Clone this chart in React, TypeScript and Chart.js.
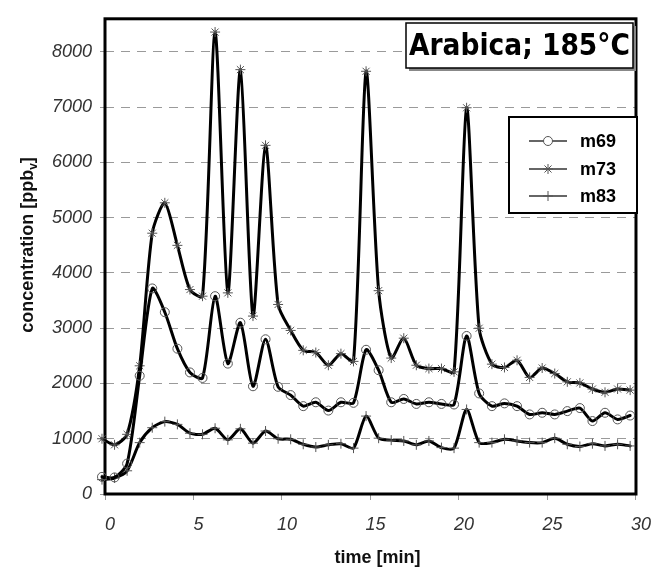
import React, { useEffect, useRef } from 'react';
import { Chart, registerables } from 'chart.js';

Chart.register(...registerables);

// time axis [min]
const times = [
  -0.17, 0.54, 1.25, 1.96, 2.67, 3.38, 4.09, 4.8, 5.51, 6.22,
  6.94, 7.65, 8.36, 9.07, 9.78, 10.49, 11.2, 11.91, 12.62, 13.33,
  14.04, 14.75, 15.46, 16.17, 16.88, 17.59, 18.3, 19.01, 19.72, 20.43,
  21.14, 21.86, 22.57, 23.28, 23.99, 24.7, 25.41, 26.12, 26.83, 27.54,
  28.25, 28.96, 29.67,
];

const m69 = [
  310, 300, 550, 2140, 3720, 3290, 2630, 2200, 2100, 3580,
  2360, 3100, 1950, 2800, 1940, 1790, 1590, 1660, 1510, 1660,
  1650, 2610, 2240, 1660, 1720, 1630, 1660, 1630, 1620, 2860,
  1820, 1590, 1640, 1590, 1440, 1470, 1440, 1500, 1555, 1320,
  1470, 1350, 1420,
];

const m73 = [
  1000, 890, 1080, 2320, 4720, 5270, 4500, 3700, 3580, 8360,
  3640, 7680, 3220, 6310, 3430, 2960, 2600, 2560, 2330, 2540,
  2400, 7650, 3680, 2460, 2820, 2330, 2270, 2270, 2210, 6990,
  3000, 2350, 2290, 2420, 2110, 2280, 2180, 2030, 2010, 1900,
  1840, 1900, 1880,
];

const m83 = [
  260, 290, 420, 930, 1200, 1310, 1260, 1100, 1080, 1190,
  980, 1180, 920, 1140, 1000, 990, 900, 850, 890, 910,
  830, 1410, 1010, 975, 960, 890, 960, 840, 830, 1530,
  930, 930, 990, 960, 930, 930, 1010, 900, 860, 910,
  870, 900, 870,
];

const seriesNames = ['m69', 'm73', 'm83'];
const seriesValues = [m69, m73, m83];
const seriesMarkers = ['circle', 'star', 'cross'];

const xTicks = [0, 5, 10, 15, 20, 25, 30];
const yTicks = [0, 1000, 2000, 3000, 4000, 5000, 6000, 7000, 8000];

const titleText = 'Arabica; 185°C';
const xTitle = 'time [min]';
const yTitleMain = 'concentration [ppb';
const yTitleSub = 'v';
const yTitleEnd = ']';

function drawMarker(ctx: CanvasRenderingContext2D, style: string, x: number, y: number, r: number) {
  ctx.save();
  ctx.strokeStyle = '#555';
  ctx.lineWidth = 1;
  ctx.beginPath();
  if (style === 'circle') {
    ctx.fillStyle = '#fff';
    ctx.arc(x, y, r, 0, Math.PI * 2);
    ctx.fill();
  } else if (style === 'star') {
    for (let k = 0; k < 4; k++) {
      const a = (k * Math.PI) / 4;
      ctx.moveTo(x - Math.cos(a) * r, y - Math.sin(a) * r);
      ctx.lineTo(x + Math.cos(a) * r, y + Math.sin(a) * r);
    }
  } else {
    ctx.moveTo(x - r, y);
    ctx.lineTo(x + r, y);
    ctx.moveTo(x, y - r);
    ctx.lineTo(x, y + r);
  }
  ctx.stroke();
  ctx.restore();
}

const decorPlugin = {
  id: 'decor',
  beforeDatasetsDraw(chart: any) {
    const { ctx, chartArea: a } = chart;
    ctx.save();
    ctx.strokeStyle = '#000';
    ctx.lineWidth = 3;
    ctx.strokeRect(a.left, a.top, a.right - a.left, a.bottom - a.top);
    ctx.restore();
  },
  afterDraw(chart: any) {
    const { ctx, chartArea: a } = chart;
    ctx.save();

    // title box with shadow
    const bx = 406, by = 23, bw = 227, bh = 45;
    ctx.fillStyle = '#888';
    ctx.fillRect(bx + 3, by + 3, bw, bh);
    ctx.fillStyle = '#fff';
    ctx.fillRect(bx, by, bw, bh);
    ctx.strokeStyle = '#000';
    ctx.lineWidth = 1.5;
    ctx.strokeRect(bx, by, bw, bh);
    ctx.fillStyle = '#000';
    ctx.font = 'bold 30px "DejaVu Sans Condensed", "DejaVu Sans", sans-serif';
    ctx.textAlign = 'left';
    ctx.textBaseline = 'alphabetic';
    ctx.fillText(titleText, bx + 3, by + 32, bw - 6);

    // legend
    const lx = 509, ly = 117, lw = 128, lh = 96;
    ctx.fillStyle = '#fff';
    ctx.fillRect(lx, ly, lw, lh);
    ctx.strokeStyle = '#000';
    ctx.lineWidth = 2;
    ctx.strokeRect(lx, ly, lw, lh);
    const rows = [141, 169, 196];
    seriesNames.forEach((name, i) => {
      const yy = rows[i];
      ctx.strokeStyle = '#333';
      ctx.lineWidth = 1.5;
      ctx.beginPath();
      ctx.moveTo(529, yy);
      ctx.lineTo(567, yy);
      ctx.stroke();
      drawMarker(ctx, seriesMarkers[i], 548, yy, i === 0 ? 4.5 : 5);
      ctx.fillStyle = '#000';
      ctx.font = 'bold 18px "Liberation Sans", Arial, sans-serif';
      ctx.textBaseline = 'middle';
      ctx.textAlign = 'left';
      ctx.fillText(name, 580, yy + 1);
    });

    // x axis title
    ctx.fillStyle = '#111';
    ctx.font = 'bold 18px "Liberation Sans", Arial, sans-serif';
    ctx.textAlign = 'center';
    ctx.textBaseline = 'alphabetic';
    ctx.fillText(xTitle, (a.left + a.right) / 2 + 7, 563);

    // y axis title with subscript
    ctx.save();
    ctx.translate(33, 245);
    ctx.rotate(-Math.PI / 2);
    const mainFont = 'bold 18px "Liberation Sans", Arial, sans-serif';
    const subFont = 'bold 12px "Liberation Sans", Arial, sans-serif';
    ctx.font = mainFont;
    const w1 = ctx.measureText(yTitleMain).width;
    const w3 = ctx.measureText(yTitleEnd).width;
    ctx.font = subFont;
    const w2 = ctx.measureText(yTitleSub).width;
    const total = w1 + w2 + w3;
    let cx = -total / 2;
    ctx.textAlign = 'left';
    ctx.textBaseline = 'alphabetic';
    ctx.font = mainFont;
    ctx.fillText(yTitleMain, cx, 0);
    cx += w1;
    ctx.font = subFont;
    ctx.fillText(yTitleSub, cx, 4);
    cx += w2;
    ctx.font = mainFont;
    ctx.fillText(yTitleEnd, cx, 0);
    ctx.restore();

    ctx.restore();
  },
};

export default function App() {
  const canvasRef = useRef<HTMLCanvasElement | null>(null);

  useEffect(() => {
    const canvas = canvasRef.current;
    if (!canvas) return;
    const datasets = seriesNames.map((name, i) => ({
      label: name,
      data: times.map((t, k) => ({ x: t, y: seriesValues[i][k] })),
      borderColor: '#000',
      borderWidth: 3,
      borderJoinStyle: 'round' as const,
      borderCapStyle: 'round' as const,
      pointStyle: seriesMarkers[i] as any,
      pointRadius: i === 0 ? 4.5 : 5,
      pointBorderColor: '#555',
      pointBackgroundColor: 'rgba(255,255,255,0)',
      pointBorderWidth: 1,
      tension: 0.25,
      clip: false as any,
      fill: false,
    }));

    const tickFont = { family: '"Liberation Sans", Arial, sans-serif', size: 18, style: 'italic' as const };

    const chart = new Chart(canvas, {
      type: 'line',
      data: { datasets },
      options: {
        animation: false,
        responsive: false,
        maintainAspectRatio: false,
        layout: { padding: { top: 12, right: 17, left: 0, bottom: 0 } },
        plugins: {
          legend: { display: false },
          tooltip: { enabled: false },
          title: { display: false },
        },
        scales: {
          x: {
            type: 'linear',
            min: 0,
            max: 30,
            afterBuildTicks: (s: any) => {
              s.ticks = xTicks.map((v) => ({ value: v }));
            },
            afterFit: (s: any) => {
              s.height = 74;
            },
            grid: {
              drawOnChartArea: false,
              drawTicks: true,
              tickLength: 6,
              tickColor: '#999',
            },
            border: { display: false },
            ticks: {
              font: tickFont,
              color: '#333',
              padding: 14,
              labelOffset: 5,
              maxRotation: 0,
              autoSkip: false,
              callback: (v: any) => String(v),
            },
          },
          y: {
            type: 'linear',
            min: 0,
            max: 8600,
            afterBuildTicks: (s: any) => {
              s.ticks = yTicks.map((v) => ({ value: v }));
            },
            afterFit: (s: any) => {
              s.width = 105;
            },
            grid: {
              color: (c: any) => (c.tick && c.tick.value === 0 ? 'rgba(0,0,0,0)' : '#9a9a9a'),
              lineWidth: 1,
              drawTicks: true,
              tickLength: 5,
              tickColor: '#999',
              tickBorderDash: [],
            } as any,
            border: { display: false, dash: [9, 7] },
            ticks: {
              font: tickFont,
              color: '#333',
              padding: 8,
              autoSkip: false,
              callback: (v: any) => String(v),
            },
          },
        },
      },
      plugins: [decorPlugin],
    });

    return () => {
      chart.destroy();
    };
  }, []);

  return (
    <div style={{ position: 'absolute', left: 0, top: 0, width: 660, height: 568, background: '#fff' }}>
      <canvas ref={canvasRef} width={660} height={568} style={{ display: 'block', width: 660, height: 568 }} />
    </div>
  );
}
